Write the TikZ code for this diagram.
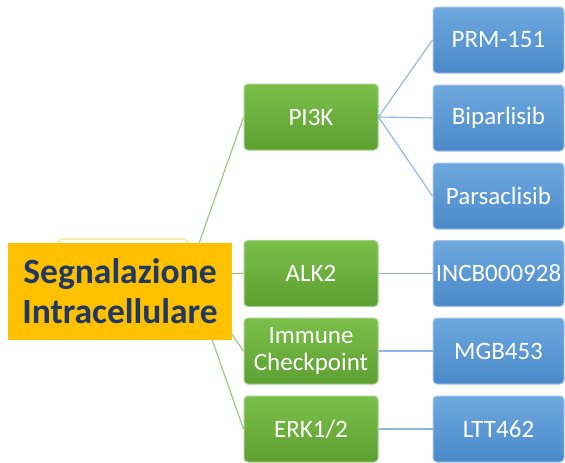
\documentclass[tikz,border=0pt]{standalone}
\usepackage{fontspec}
\setmainfont{Carlito}
\definecolor{rootfill}{HTML}{FFC000}
\definecolor{roottext}{HTML}{1F3864}
\definecolor{gtop}{HTML}{7BC04A}
\definecolor{gbot}{HTML}{5E9F32}
\definecolor{gborder}{HTML}{A8D08D}
\definecolor{glink}{HTML}{9BC27A}
\definecolor{btop}{HTML}{6EA8DE}
\definecolor{bbot}{HTML}{4A89CA}
\definecolor{bborder}{HTML}{A3C6E8}
\definecolor{blink}{HTML}{8DB4E2}
\definecolor{ghost}{HTML}{FFE38C}
\begin{document}
\begin{tikzpicture}[x=1pt,y=-1pt,
  gbox/.style={draw=gborder,line width=1pt,top color=gtop,bottom color=gbot,rounded corners=4pt,
    minimum width=134pt,minimum height=66pt,text=white,font=\fontsize{25}{27.5}\selectfont,align=center,inner sep=0pt},
  bbox/.style={draw=bborder,line width=1pt,top color=btop,bottom color=bbot,rounded corners=4pt,
    minimum width=131pt,minimum height=66pt,text=white,font=\fontsize{25}{27.5}\selectfont,align=center,inner sep=0pt},
  glinkst/.style={draw=glink,line width=1.1pt},
  blinkst/.style={draw=blink,line width=1.1pt}]
\useasboundingbox (0,0) rectangle (565,463);
% hidden original node behind root
\node[draw=ghost,fill=white,line width=1.2pt,rounded corners=5pt,minimum width=131pt,minimum height=68pt] (ghost) at (122.5,273) {};
% level 1
\node[gbox] (pi3k) at (311,117) {PI3K};
\node[gbox] (alk2) at (311,273.5) {ALK2};
\node[gbox] (imm) at (311,351) {Immune\\Checkpoint};
\node[gbox] (erk) at (311,429) {ERK1/2};
% level 2
\node[bbox] (prm) at (498.5,40) {PRM-151};
\node[bbox] (bip) at (498.5,118) {Biparlisib};
\node[bbox] (par) at (498.5,196) {Parsaclisib};
\node[bbox] (incb) at (498.5,273.5) {INCB000928};
\node[bbox] (mgb) at (498.5,351) {MGB453};
\node[bbox] (ltt) at (498.5,429) {LTT462};
% connectors
\draw[glinkst] (ghost.east) -- (pi3k.west);
\draw[glinkst] (ghost.east) -- (alk2.west);
\draw[glinkst] (ghost.east) -- (imm.west);
\draw[glinkst] (ghost.east) -- (erk.west);
\draw[blinkst] (pi3k.east) -- (prm.west);
\draw[blinkst] (pi3k.east) -- (bip.west);
\draw[blinkst] (pi3k.east) -- (par.west);
\draw[blinkst] (alk2.east) -- (incb.west);
\draw[blinkst] (imm.east) -- (mgb.west);
\draw[blinkst] (erk.east) -- (ltt.west);
% root
\node[fill=rootfill,minimum width=224pt,minimum height=97pt,inner sep=0pt,text=roottext,
  font=\fontsize{35.5}{40}\selectfont\bfseries,align=center] (root) at (120,291.5) {Segnalazione\\Intracellulare};
\end{tikzpicture}
\end{document}
